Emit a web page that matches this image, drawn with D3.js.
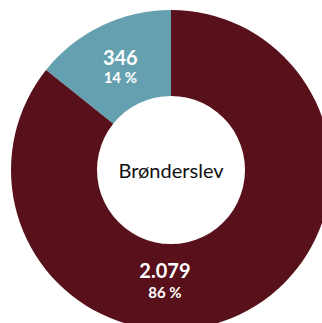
<!DOCTYPE html>
<html><head><meta charset="utf-8">
<script src="https://cdn.jsdelivr.net/npm/d3@7"></script>
<style>html,body{margin:0;padding:0;background:#fff;overflow:hidden}</style>
</head><body>
<svg id="c" width="322" height="323"></svg>
<script>
const categories = ["A", "B"];
const values = [346, 2079];
const valueLabels = ["346", "2.079"];
const percentLabels = ["14 %", "86 %"];
const centerLabel = "Brønderslev";
const colors = ["#64A0B0", "#58111A"];

const svg = d3.select("#c");
const cx = 171, cy = 170, rOut = 160, rIn = 74;
const g = svg.append("g").attr("transform", `translate(${cx},${cy})`);

const pie = d3.pie().sort(null).value(d => d)
  .startAngle(-2 * Math.PI * values[0] / d3.sum(values))
  .endAngle(2 * Math.PI - 2 * Math.PI * values[0] / d3.sum(values));
const arcs = pie(values);
const arc = d3.arc().innerRadius(rIn).outerRadius(rOut);

g.selectAll("path").data(arcs).enter().append("path")
  .attr("d", arc).attr("fill", (d, i) => colors[i]);

// label positions: first slice at centroid, second slice near the bottom
const labelPos = arcs.map((d, i) => {
  let a, r;
  if (i === 0) { a = (d.startAngle + d.endAngle) / 2; r = 117; }
  else { a = Math.PI + 0.055; r = 111; }
  return [Math.sin(a) * r, -Math.cos(a) * r];
});

const font = "Lato, 'Open Sans', sans-serif";
arcs.forEach((d, i) => {
  const [x, y] = labelPos[i];
  g.append("text").attr("x", x).attr("y", i === 0 ? y : y - 3)
    .attr("text-anchor", "middle")
    .attr("font-family", font).attr("font-weight", "bold")
    .attr("font-size", 20).attr("fill", "#fff").text(valueLabels[i]);
  g.append("text").attr("x", x).attr("y", i === 0 ? y + 18 : y + 17)
    .attr("text-anchor", "middle")
    .attr("font-family", font).attr("font-weight", "bold")
    .attr("font-size", 15).attr("fill", "#fff").text(percentLabels[i]);
});

g.append("text").attr("x", 0).attr("y", 8)
  .attr("text-anchor", "middle")
  .attr("font-family", font)
  .attr("font-size", 20).attr("fill", "#111").text(centerLabel);
</script>
</body></html>
